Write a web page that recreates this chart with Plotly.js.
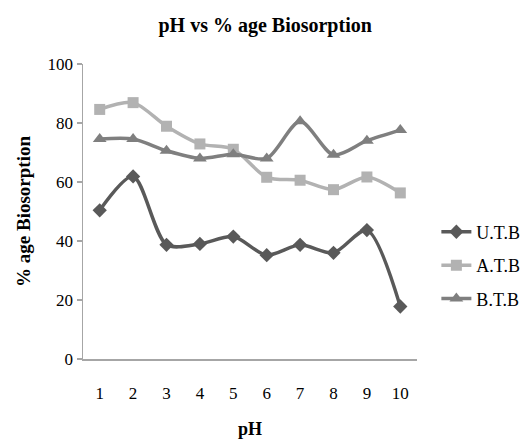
<!DOCTYPE html>
<html>
<head>
<meta charset="utf-8">
<script src="https://cdn.plot.ly/plotly-3.0.1.min.js"></script>
<style>html,body{margin:0;padding:0;background:#fff;}#chart{width:523px;height:439px;}</style>
</head>
<body>
<div id="chart"></div>
<script>
var pH = [1, 2, 3, 4, 5, 6, 7, 8, 9, 10];
var tickLabels = ["1", "2", "3", "4", "5", "6", "7", "8", "9", "10"];
var seriesNames = ["U.T.B", "A.T.B", "B.T.B"];
var utb = [50.4, 61.9, 38.7, 39.0, 41.5, 35.2, 38.7, 36.0, 43.7, 17.8];
var atb = [84.6, 86.9, 78.9, 72.9, 71.1, 61.6, 60.6, 57.4, 61.7, 56.3];
var btb = [74.6, 74.6, 70.6, 68.0, 69.4, 68.0, 80.6, 69.2, 74.0, 77.6];

var serif = "'Liberation Serif', 'Times New Roman', serif";

function mk(name, y, color, symbol, size, group) {
  return {
    x: pH, y: y, name: name, type: "scatter", mode: "lines+markers",
    legendgroup: group,
    line: {color: color, width: 3.5, shape: "spline", smoothing: 0.8},
    marker: {color: color, symbol: symbol, size: size}
  };
}

var data = [
  mk(seriesNames[0], utb, "#595959", "diamond", 11, "g1"),
  mk(seriesNames[1], atb, "#b2b2b2", "square", 11, "g2"),
  mk(seriesNames[2], btb, "#7f7f7f", "triangle-up", 12, "g3")
];

var layout = {
  width: 523, height: 439,
  margin: {l: 83, r: 106, t: 64, b: 80, autoexpand: false},
  paper_bgcolor: "#fff", plot_bgcolor: "#fff",
  font: {family: serif, size: 17, color: "#000"},
  title: {text: "<b>pH vs % age Biosorption</b>", font: {family: serif, size: 20, color: "#000"},
          x: 0.507, xref: "container", y: 0.943, yref: "container", xanchor: "center", yanchor: "middle"},
  xaxis: {
    range: [0.5, 10.5], tickvals: pH, ticktext: tickLabels,
    showline: true, linecolor: "#a6a6a6", linewidth: 1.5,
    showgrid: false, zeroline: false,
    ticks: "outside", ticklen: 18, tickcolor: "rgba(0,0,0,0)",
    tickfont: {family: serif, size: 17, color: "#000"},
    title: {text: "<b>pH</b>", font: {family: serif, size: 18, color: "#000"}, standoff: 20}
  },
  yaxis: {
    range: [0, 100], dtick: 20,
    showline: true, linecolor: "#a6a6a6", linewidth: 1.5,
    showgrid: false, zeroline: false,
    ticks: "outside", ticklen: 5, tickcolor: "#a6a6a6", tickwidth: 1.5,
    tickfont: {family: serif, size: 17, color: "#000"},
    title: {text: "<b>% age Biosorption</b>", font: {family: serif, size: 19, color: "#000"}, standoff: 12}
  },
  legend: {
    x: 1.058, y: 0.493, xanchor: "left", yanchor: "top",
    traceorder: "grouped", tracegroupgap: 7, itemwidth: 30,
    font: {family: serif, size: 18, color: "#000"},
    bgcolor: "rgba(0,0,0,0)"
  },
  showlegend: true
};

Plotly.newPlot("chart", data, layout, {displayModeBar: false, staticPlot: true});
</script>
</body>
</html>
